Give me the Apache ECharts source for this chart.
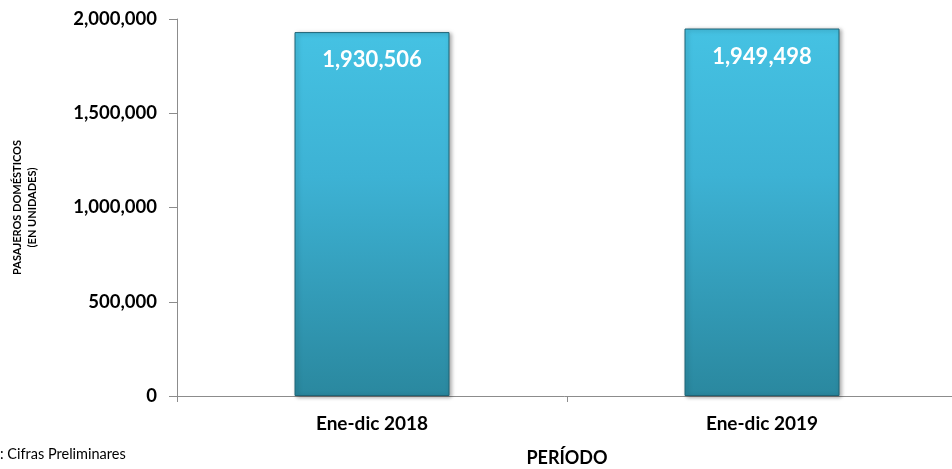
<!DOCTYPE html>
<html><head><meta charset="utf-8">
<script src="https://cdn.jsdelivr.net/npm/echarts@6/dist/echarts.min.js"></script>
<style>html,body{margin:0;padding:0;background:#fff}#c{width:952px;height:469px}</style>
</head><body><div id="c"></div>
<script>
const categories = ['Ene-dic 2018', 'Ene-dic 2019'];
const values = [1930506, 1949498];
const yTicks = [0, 500000, 1000000, 1500000, 2000000];

const FONT = 'Lato';
const fmt = v => v.toLocaleString('en-US');
const chart = echarts.init(document.getElementById('c'));
chart.setOption({
  animation: false,
  grid: { left: 177, width: 780, top: 19, bottom: 73, outerBoundsMode: 'none', containLabel: false },
  xAxis: {
    type: 'category', data: categories,
    axisLine: { lineStyle: { color: '#8c8c8c', width: 1 } },
    axisTick: { show: true, length: 6, lineStyle: { color: '#8c8c8c' } },
    axisLabel: { color: '#000', fontFamily: FONT, fontWeight: 'bold', fontSize: 19, margin: 18 },
    name: 'PERÍODO', nameLocation: 'middle', nameGap: 53,
    nameTextStyle: { color: '#000', fontFamily: FONT, fontWeight: 'bold', fontSize: 18 }
  },
  yAxis: {
    type: 'value', min: yTicks[0], max: yTicks[yTicks.length - 1], interval: 500000,
    splitLine: { show: false },
    axisLine: { show: true, lineStyle: { color: '#8c8c8c', width: 1 } },
    axisTick: { show: true, length: 8, lineStyle: { color: '#8c8c8c' } },
    axisLabel: { color: '#000', fontFamily: FONT, fontWeight: 'bold', fontSize: 18.5, margin: 20, formatter: v => fmt(v) },
    name: 'PASAJEROS DOMÉSTICOS\n(EN UNIDADES)', nameLocation: 'middle', nameGap: 137, nameRotate: 90,
    nameTextStyle: { color: '#000', fontFamily: FONT, fontWeight: 'bold', fontSize: 11, lineHeight: 15, align: 'center' }
  },
  graphic: [{
    type: 'text', left: 0, top: 447,
    style: { text: ': Cifras Preliminares', fill: '#000', font: '14.5px ' + FONT }
  }],
  series: [{
    type: 'bar', data: values, barWidth: 155,
    itemStyle: {
      color: new echarts.graphic.LinearGradient(0, 0, 0, 1, [
        { offset: 0, color: '#45C2E3' },
        { offset: 0.4, color: '#3DB2D4' },
        { offset: 1, color: '#2A889F' }
      ]),
      borderColor: '#1f6476', borderWidth: 1,
      shadowColor: 'rgba(0,0,0,0.35)', shadowBlur: 4, shadowOffsetX: 2, shadowOffsetY: 1
    },
    label: {
      show: true, position: 'insideTop', distance: 17,
      color: '#fff', fontFamily: FONT, fontWeight: 'bold', fontSize: 22,
      formatter: p => fmt(p.value)
    }
  }]
});
</script></body></html>
